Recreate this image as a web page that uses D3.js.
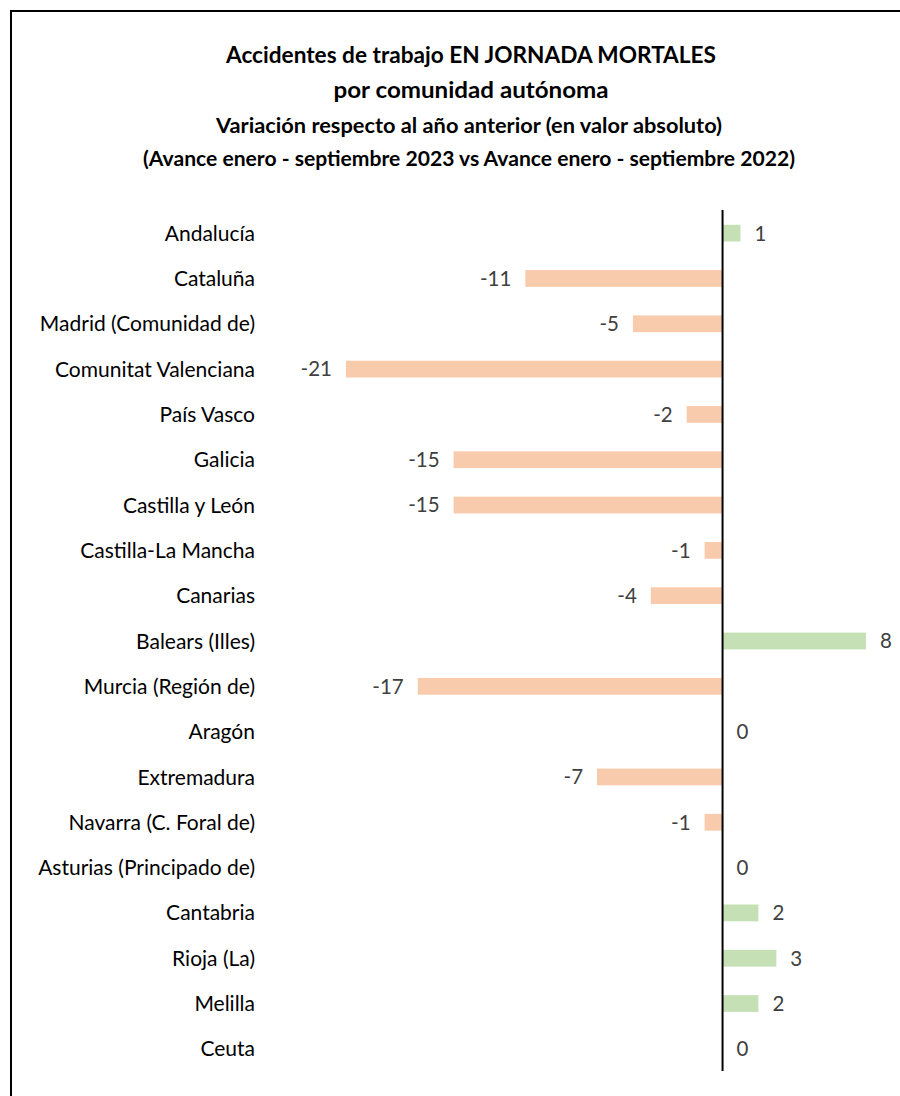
<!DOCTYPE html>
<html>
<head>
<meta charset="utf-8">
<script src="https://cdn.jsdelivr.net/npm/d3@7"></script>
<style>
  body { margin: 0; background: #fff; }
  svg { display: block; }
</style>
</head>
<body>
<script>
// data
var regions = ["Andalucía", "Cataluña", "Madrid (Comunidad de)", "Comunitat Valenciana",
  "País Vasco", "Galicia", "Castilla y León", "Castilla-La Mancha", "Canarias",
  "Balears (Illes)", "Murcia (Región de)", "Aragón", "Extremadura",
  "Navarra (C. Foral de)", "Asturias (Principado de)", "Cantabria", "Rioja (La)",
  "Melilla", "Ceuta"];
var variation = [1, -11, -5, -21, -2, -15, -15, -1, -4, 8, -17, 0, -7, -1, 0, 2, 3, 2, 0];
var titleLines = ["Accidentes de trabajo EN JORNADA MORTALES", "por comunidad autónoma"];
var subtitleLines = ["Variación respecto al año anterior (en valor absoluto)",
  "(Avance enero - septiembre 2023 vs Avance enero - septiembre 2022)"];

var width = 900, height = 1096;
var font = "Lato, 'Open Sans', sans-serif";

var svg = d3.select("body").append("svg")
  .attr("width", width)
  .attr("height", height);

// frame (runs off the right and bottom edge like in the screenshot)
svg.append("rect")
  .attr("x", 11).attr("y", 11)
  .attr("width", 940).attr("height", 1120)
  .attr("fill", "none")
  .attr("stroke", "#000")
  .attr("stroke-width", 2);

// titles - squeezed a bit, the original font is narrower
var titleLen = [490, 275];
svg.selectAll(".title").data(titleLines).enter().append("text")
  .attr("x", 471)
  .attr("y", function(d, i){ return 63 + i * 35; })
  .attr("text-anchor", "middle")
  .attr("font-family", font)
  .attr("font-weight", "bold")
  .attr("font-size", 23)
  .attr("textLength", function(d, i){ return titleLen[i]; })
  .attr("lengthAdjust", "spacingAndGlyphs")
  .attr("fill", "#000")
  .text(function(d){ return d; });

var subLen = [506, 652];
svg.selectAll(".subtitle").data(subtitleLines).enter().append("text")
  .attr("x", 469)
  .attr("y", function(d, i){ return 133 + i * 33; })
  .attr("text-anchor", "middle")
  .attr("font-family", font)
  .attr("font-weight", "bold")
  .attr("font-size", 21)
  .attr("textLength", function(d, i){ return subLen[i]; })
  .attr("lengthAdjust", "spacingAndGlyphs")
  .attr("fill", "#000")
  .text(function(d){ return d; });

// scales
var x = d3.scaleLinear().domain([-21, 8]).range([346, 866]);
var y = d3.scaleBand().domain(regions).range([210.5, 1071.5]).paddingInner(0.63).paddingOuter(0.315);

var bars = svg.append("g");
bars.selectAll("rect").data(regions).enter().append("rect")
  .attr("x", function(d, i){ return Math.min(x(0), x(variation[i])); })
  .attr("y", function(d){ return y(d); })
  .attr("width", function(d, i){ return Math.abs(x(variation[i]) - x(0)); })
  .attr("height", y.bandwidth())
  .attr("fill", function(d, i){ return variation[i] < 0 ? "#F8CBAD" : "#C5E0B4"; });

// value labels
bars.selectAll("text").data(regions).enter().append("text")
  .attr("x", function(d, i){
    var v = variation[i];
    return v < 0 ? x(v) - 14 : x(v) + 14;
  })
  .attr("y", function(d){ return y(d) + y.bandwidth() / 2; })
  .attr("dy", "0.36em")
  .attr("text-anchor", function(d, i){ return variation[i] < 0 ? "end" : "start"; })
  .attr("font-family", font)
  .attr("font-size", 20.5)
  .attr("fill", "#404040")
  .text(function(d, i){ return variation[i]; });

// category labels
svg.append("g").selectAll("text").data(regions).enter().append("text")
  .attr("x", 255)
  .attr("y", function(d){ return y(d) + y.bandwidth() / 2; })
  .attr("dy", "0.36em")
  .attr("text-anchor", "end")
  .attr("font-family", font)
  .attr("font-size", 21)
  .attr("fill", "#000")
  .text(function(d){ return d; });

// zero axis line
svg.append("line")
  .attr("x1", x(0)).attr("x2", x(0))
  .attr("y1", 210).attr("y2", 1071)
  .attr("stroke", "#000")
  .attr("stroke-width", 2);
</script>
</body>
</html>
